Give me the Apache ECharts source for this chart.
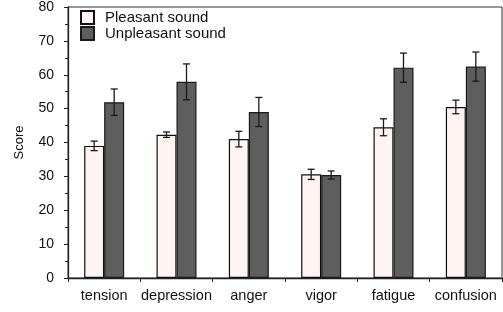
<!DOCTYPE html>
<html>
<head>
<meta charset="utf-8">
<script src="https://cdn.jsdelivr.net/npm/echarts@6/dist/echarts.min.js"></script>
<style>
  html, body { margin: 0; padding: 0; background: #fff; }
  #chart { width: 503px; height: 312px; }
</style>
</head>
<body>
<div id="chart"></div>
<script>
// mood scores
var categories = ['tension', 'depression', 'anger', 'vigor', 'fatigue', 'confusion'];
var pleasant = [39.0, 42.3, 41.0, 30.6, 44.5, 50.5];
var pleasantErr = [1.4, 0.8, 2.3, 1.5, 2.5, 2.0];
var unpleasant = [51.9, 57.9, 49.0, 30.4, 62.1, 62.4];
var unpleasantErr = [3.9, 5.3, 4.3, 1.2, 4.3, 4.3];
var yTicks = [0, 10, 20, 30, 40, 50, 60, 70, 80];

var BAR_W = 20;

function errorData(vals, errs) {
    var out = [];
    for (var i = 0; i < vals.length; i++) {
        out.push([i, vals[i] - errs[i], vals[i] + errs[i]]);
    }
    return out;
}

function errorSeries(vals, errs, side) {
    return {
        type: 'custom',
        z: 10,
        silent: true,
        data: errorData(vals, errs),
        renderItem: function (params, api) {
            var lo = api.coord([api.value(0), api.value(1)]);
            var hi = api.coord([api.value(0), api.value(2)]);
            var x = lo[0] + side * BAR_W / 2;
            var cap = 3.5;
            var style = { stroke: '#1a1a1a', lineWidth: 1.3 };
            return {
                type: 'group',
                children: [
                    { type: 'line', shape: { x1: x, y1: lo[1], x2: x, y2: hi[1] }, style: style },
                    { type: 'line', shape: { x1: x - cap, y1: lo[1], x2: x + cap, y2: lo[1] }, style: style },
                    { type: 'line', shape: { x1: x - cap, y1: hi[1], x2: x + cap, y2: hi[1] }, style: style }
                ]
            };
        }
    };
}

var myChart = echarts.init(document.getElementById('chart'));
var option = {
    animation: false,
    backgroundColor: '#fff',
    grid: {
        left: 68, right: 1, top: 6, bottom: 34,
        show: true, borderColor: '#333', borderWidth: 1
    },
    legend: {
        orient: 'vertical',
        left: 75, top: 5,
        icon: 'rect',
        itemWidth: 13, itemHeight: 13, itemGap: 1,
        textStyle: { fontFamily: 'Liberation Sans', fontSize: 15, color: '#111', padding: [0, 0, 0, 6] },
        data: ['Pleasant sound', 'Unpleasant sound']
    },
    xAxis: {
        type: 'category',
        data: categories,
        axisLine: { lineStyle: { color: '#222', width: 1.3 } },
        axisTick: { show: true, length: 4, lineStyle: { color: '#222' } },
        axisLabel: { interval: 0, fontFamily: 'Liberation Sans', fontSize: 14.5, color: '#111', margin: 10 }
    },
    yAxis: {
        type: 'value',
        min: yTicks[0], max: yTicks[yTicks.length - 1], interval: 10,
        name: 'Score',
        nameLocation: 'middle',
        nameGap: 42,
        nameTextStyle: { fontFamily: 'Liberation Sans', fontSize: 13, color: '#111' },
        axisLine: { show: true, lineStyle: { color: '#222', width: 1.3 } },
        axisTick: { show: true, length: 4, lineStyle: { color: '#222' } },
        minorTick: { show: true, splitNumber: 2, length: 3, lineStyle: { color: '#222' } },
        splitLine: { show: false },
        axisLabel: { fontFamily: 'Liberation Sans', fontSize: 14, color: '#111', margin: 14 }
    },
    series: [
        {
            name: 'Pleasant sound',
            type: 'bar',
            data: pleasant,
            barWidth: BAR_W,
            barGap: '0%',
            itemStyle: { color: '#fff4f1', borderColor: '#111', borderWidth: 1.2, borderRadius: 0 }
        },
        {
            name: 'Unpleasant sound',
            type: 'bar',
            data: unpleasant,
            barWidth: BAR_W,
            barGap: '0%',
            itemStyle: { color: '#5e5e5e', borderColor: '#1a1a1a', borderWidth: 1.2, borderRadius: 0 }
        },
        errorSeries(pleasant, pleasantErr, -1),
        errorSeries(unpleasant, unpleasantErr, 1)
    ]
};
myChart.setOption(option);
</script>
</body>
</html>
